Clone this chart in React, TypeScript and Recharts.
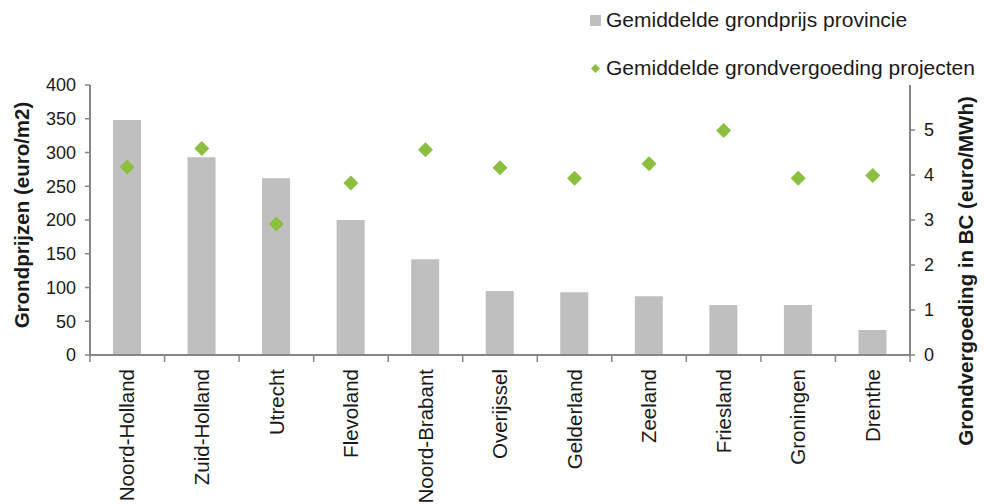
import {
  Bar, ComposedChart, Label, Legend, Scatter, XAxis, YAxis,
} from "recharts";

const provinces = [
  "Noord-Holland", "Zuid-Holland", "Utrecht", "Flevoland", "Noord-Brabant",
  "Overijssel", "Gelderland", "Zeeland", "Friesland", "Groningen", "Drenthe",
];
// euro/m2
const grondprijs = [348, 293, 262, 200, 142, 95, 93, 87, 74, 74, 37];
// euro/MWh
const vergoeding = [4.18, 4.59, 2.91, 3.82, 4.56, 4.16, 3.93, 4.25, 4.99, 3.93, 3.99];

const leftTicks = [0, 50, 100, 150, 200, 250, 300, 350, 400];
const rightTicks = [0, 1, 2, 3, 4, 5];

const data = provinces.map((name, i) => ({
  name,
  grondprijs: grondprijs[i],
  vergoeding: vergoeding[i],
}));

const W = 986;
const H = 504;
const LEFT_W = 90;
const RIGHT_W = 76;
// width of one category band, for the Excel-style ticks between categories
const STEP = (W - LEFT_W - RIGHT_W) / provinces.length;

const FONT = '"Liberation Sans", Arial, sans-serif';
const AXIS = "#868686";
const BAR = "#bfbfbf";
const GREEN = "#8cbf3f";

function CategoryTick({ x, y, payload, index }: any) {
  return (
    <g transform={`translate(${x},${y})`}>
      {index === 0 && <line x1={-STEP / 2} x2={-STEP / 2} y1={0} y2={7} stroke={AXIS} strokeWidth={1.5} />}
      <line x1={STEP / 2} x2={STEP / 2} y1={0} y2={7} stroke={AXIS} strokeWidth={1.5} />
      <text
        transform="rotate(-90)"
        x={-14}
        y={0}
        dy="0.35em"
        textAnchor="end"
        fontSize={20.5}
        fontFamily={FONT}
        fill="#1a1a1a"
      >
        {payload.value}
      </text>
    </g>
  );
}

function Diamond({ cx, cy }: any) {
  const r = 7.5;
  return (
    <path
      d={`M${cx},${cy - r}L${cx + r},${cy}L${cx},${cy + r}L${cx - r},${cy}Z`}
      fill={GREEN}
    />
  );
}

function AxisTitle({ viewBox, value, dx, dy }: any) {
  const x = viewBox.x + viewBox.width / 2 + dx;
  const y = viewBox.y + viewBox.height / 2 + dy;
  return (
    <text
      x={x}
      y={y}
      transform={`rotate(-90, ${x}, ${y})`}
      textAnchor="middle"
      dominantBaseline="central"
      fontSize={20.5}
      fontWeight="bold"
      fontFamily={FONT}
      fill="#1a1a1a"
    >
      {value}
    </text>
  );
}

function LegendBox() {
  const row: React.CSSProperties = {
    position: "absolute",
    left: 0,
    display: "flex",
    alignItems: "center",
    height: 24,
    fontFamily: FONT,
    fontSize: 21,
    color: "#1a1a1a",
    whiteSpace: "nowrap",
  };
  return (
    <div style={{ position: "relative", width: 396, height: 90 }}>
      <div style={{ ...row, top: 8 }}>
        <span style={{ width: 11, height: 11, background: BAR, marginRight: 5 }} />
        Gemiddelde grondprijs provincie
      </div>
      <div style={{ ...row, top: 56 }}>
        <svg width={11} height={11} style={{ marginRight: 5 }}>
          <path d="M5.5,1L10,5.5L5.5,10L1,5.5Z" fill={GREEN} />
        </svg>
        Gemiddelde grondvergoeding projecten
      </div>
    </div>
  );
}

export default function App() {
  return (
    <div style={{ position: "absolute", left: 0, top: 0, width: W, height: H, background: "#fff" }}>
      <ComposedChart
        width={W}
        height={H}
        data={data}
        margin={{ top: 85, right: 0, bottom: 0, left: 0 }}
      >
        <XAxis
          dataKey="name"
          interval={0}
          height={149}
          tickLine={false}
          tickSize={0}
          tickMargin={0}
          axisLine={{ stroke: AXIS, strokeWidth: 2 }}
          tick={<CategoryTick />}
        />
        <YAxis
          yAxisId="left"
          domain={[0, 400]}
          ticks={leftTicks}
          width={LEFT_W}
          tickSize={5}
          tickMargin={9}
          axisLine={{ stroke: AXIS, strokeWidth: 2 }}
          tickLine={{ stroke: AXIS, strokeWidth: 1.5 }}
          tick={{ fontSize: 18, fontFamily: FONT, fill: "#1a1a1a" }}
        >
          <Label
            value="Grondprijzen (euro/m2)"
            content={(p: any) => <AxisTitle {...p} value="Grondprijzen (euro/m2)" dx={-24} dy={-5} />}
          />
        </YAxis>
        <YAxis
          yAxisId="right"
          orientation="right"
          domain={[0, 6]}
          ticks={rightTicks}
          width={RIGHT_W}
          tickSize={5}
          tickMargin={9}
          axisLine={{ stroke: AXIS, strokeWidth: 2 }}
          tickLine={{ stroke: AXIS, strokeWidth: 1.5 }}
          tick={{ fontSize: 18, fontFamily: FONT, fill: "#1a1a1a" }}
        >
          <Label
            value="Grondvergoeding in BC (euro/MWh)"
            content={(p: any) => (
              <AxisTitle {...p} value="Grondvergoeding in BC (euro/MWh)" dx={17} dy={51} />
            )}
          />
        </YAxis>
        <Legend
          layout="horizontal"
          align="center"
          verticalAlign="middle"
          wrapperStyle={{ top: 0, left: 590, width: 396 }}
          content={() => <LegendBox />}
        />
        <Bar
          yAxisId="left"
          dataKey="grondprijs"
          name="Gemiddelde grondprijs provincie"
          fill={BAR}
          barSize={28}
          isAnimationActive={false}
        />
        <Scatter
          yAxisId="right"
          dataKey="vergoeding"
          name="Gemiddelde grondvergoeding projecten"
          fill={GREEN}
          shape={<Diamond />}
          isAnimationActive={false}
        />
      </ComposedChart>
    </div>
  );
}
